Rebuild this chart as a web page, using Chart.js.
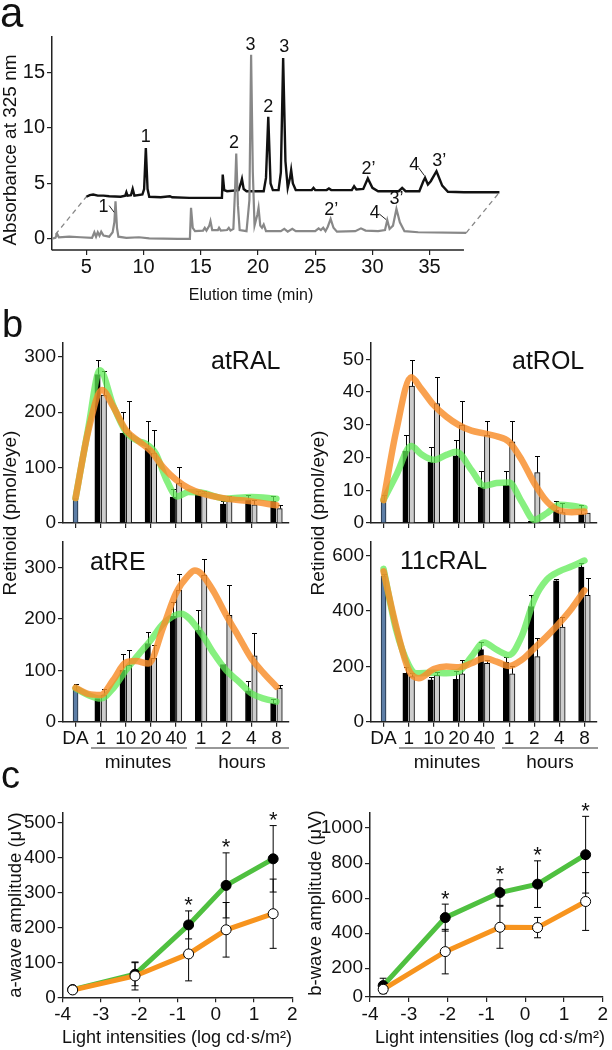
<!DOCTYPE html>
<html>
<head>
<meta charset="utf-8">
<script src="https://cdn.jsdelivr.net/npm/chart.js@4.4.1/dist/chart.umd.min.js"></script>
<style>
  body { margin: 0; background: #fff; width: 612px; height: 1050px; position: relative; overflow: hidden; }
  canvas { position: absolute; }
  svg { position: absolute; left: 0; top: 0; }
</style>
</head>
<body>
<svg id="labels" width="612" height="1050" font-family="Liberation Sans, Arial, Helvetica, sans-serif" fill="#111">
  <text x="0" y="27" font-size="42">a</text>
  <text x="2" y="337" font-size="38">b</text>
  <text x="1" y="788" font-size="38">c</text>

  <text transform="translate(16,150) rotate(-90)" text-anchor="middle" font-size="19">Absorbance at 325 nm</text>
  <text x="251" y="300" text-anchor="middle" font-size="16">Elution time (min)</text>

  <text transform="translate(16,513) rotate(-90)" text-anchor="middle" font-size="19">Retinoid (pmol/eye)</text>
  <text transform="translate(324,513) rotate(-90)" text-anchor="middle" font-size="19">Retinoid (pmol/eye)</text>
  <text x="211" y="369" font-size="25">atRAL</text>
  <text x="512" y="369" font-size="25">atROL</text>
  <text x="90" y="570" font-size="25">atRE</text>
  <text x="400" y="569" font-size="25">11cRAL</text>

  <g stroke="#333" stroke-width="1.2">
    <line x1="91" y1="748" x2="187" y2="748"/>
    <line x1="195" y1="748" x2="289" y2="748"/>
    <line x1="399" y1="748" x2="495" y2="748"/>
    <line x1="502" y1="748" x2="598" y2="748"/>
  </g>
  <text x="138" y="768" text-anchor="middle" font-size="19">minutes</text>
  <text x="242" y="768" text-anchor="middle" font-size="19">hours</text>
  <text x="447" y="768" text-anchor="middle" font-size="19">minutes</text>
  <text x="550" y="768" text-anchor="middle" font-size="19">hours</text>

  <text transform="translate(21,905) rotate(-90)" text-anchor="middle" font-size="18.5">a-wave amplitude (μV)</text>
  <text transform="translate(321,903) rotate(-90)" text-anchor="middle" font-size="18.5">b-wave amplitude (μV)</text>
  <text x="177" y="1043" text-anchor="middle" font-size="18">Light intensities (log cd·s/m²)</text>
  <text x="490" y="1043" text-anchor="middle" font-size="18">Light intensities (log cd·s/m²)</text>
</svg>
<script>
// ---- panel a: HPLC traces, [elution min, absorbance] ----
var traceBlack = [[5.0,3.8],[5.3,3.95],[5.6,4.0],[6.0,3.9],[6.5,3.9],[7.0,3.85],[8.0,3.8],[8.4,3.9],[8.5,4.2],[8.6,3.9],
  [8.9,3.95],[9.05,4.5],[9.2,3.9],[9.9,4.0],[10.05,4.5],[10.2,8.2],[10.35,4.5],[10.5,3.8],[11.5,3.75],[12.3,3.85],
  [12.5,3.75],[14,3.7],[16.85,3.7],[16.92,5.8],[17.05,4.4],[17.3,4.3],[18.3,4.4],[18.5,5.0],[18.6,5.4],[18.75,4.5],
  [19.0,4.3],[20.5,4.3],[20.7,5.5],[20.9,11.0],[21.1,5.0],[21.3,4.4],[21.8,4.4],[22.0,6.0],[22.2,16.3],[22.4,7.0],
  [22.6,4.6],[22.8,5.5],[22.9,6.2],[23.05,5.0],[23.3,4.4],[24.7,4.4],[24.85,4.6],[25.0,4.4],[26.0,4.4],[26.2,4.55],
  [26.4,4.4],[28.2,4.4],[28.4,4.75],[28.6,4.45],[29.2,4.5],[29.6,5.45],[30.0,4.6],[30.5,4.3],[32.3,4.3],[32.6,4.6],
  [32.9,4.3],[34.1,4.3],[34.45,5.2],[34.6,5.5],[34.85,4.9],[35.1,5.2],[35.6,6.1],[36.1,4.8],[36.6,4.25],[38,4.2],[41.1,4.2]];
var traceGrey = [[1.9,0.0],[2.3,0.1],[2.45,0.45],[2.6,0.15],[3.5,0.2],[4.5,0.15],[5.5,0.1],[5.7,0.6],[5.85,0.2],[6.0,0.6],
  [6.15,0.3],[6.3,0.65],[6.5,0.3],[7.0,0.2],[7.3,0.6],[7.45,1.5],[7.55,3.4],[7.68,1.0],[7.8,0.2],[8.5,0.1],[9.6,0.15],
  [10.5,0.05],[13,0.0],[14.05,0.0],[14.15,2.8],[14.3,1.0],[14.5,0.7],[15.2,0.75],[15.35,1.0],[15.5,0.75],[15.75,1.2],
  [15.85,1.6],[16.0,0.8],[16.5,0.8],[16.6,1.0],[16.75,0.75],[17.3,0.8],[17.45,1.0],[17.6,0.75],[17.85,0.9],[18.0,4.5],
  [18.1,7.7],[18.25,3.0],[18.4,0.8],[19.0,0.7],[19.25,3.5],[19.4,16.6],[19.55,6.0],[19.7,1.2],[19.95,2.2],[20.05,2.8],
  [20.2,1.2],[20.35,1.0],[20.5,1.3],[20.7,0.7],[22.0,0.7],[22.3,0.9],[22.6,0.65],[23.0,0.9],[23.3,0.7],[25.0,0.7],
  [25.3,0.95],[25.5,0.8],[25.7,1.0],[25.9,0.7],[26.1,1.1],[26.35,1.8],[26.6,1.0],[26.9,0.65],[28.5,0.7],[29.0,0.95],
  [29.4,0.75],[30.5,0.7],[31.1,0.8],[31.3,1.7],[31.5,0.9],[31.8,1.2],[32.1,2.7],[32.4,1.5],[32.8,0.7],[34,0.6],[38.2,0.55]];
var offsetLinkLeft = [[2.3,0.4],[5.0,3.8]];
var offsetLinkRight = [[38.2,0.55],[41.1,4.2]];
var peakNames = ['1','2','3','2’','4','3’','1','2','3','2’','4','3’'];
var peakNameAt = [[6.5,2.9],[17.9,8.6],[19.35,17.5],[26.4,2.6],[30.2,2.3],[32.1,3.6],
                  [10.2,9.2],[20.9,11.9],[22.3,17.3],[29.65,6.3],[33.65,6.7],[35.85,7.0]];
var peakLeaders = [[[7.0,3.0],[7.43,2.4]],[[30.6,2.25],[31.2,1.74]],[[34.05,6.4],[34.55,5.7]]];
var elutionTicks = [5, 10, 15, 20, 25, 30, 35];
var absorbanceTicks = [0, 5, 10, 15];

// ---- panel b: retinoids (pmol/eye), time points after bleach ----
var timeLabels = ['DA', '1', '10', '20', '40', '1', '2', '4', '8'];
var timeTicks = [0, 1, 2, 3, 4, 5, 6, 7, 8];

var atRAL_da = [44, 0];
var atRAL_black = [268, 162, 135, 47, 52, 34, 42, 39];
var atRAL_blackErr = [27, 39, 49, 14, 6, 5, 9, 10];
var atRAL_grey = [231, 163, 126, 72, 54, 40, 33, 26];
var atRAL_greyErr = [44, 58, 42, 30, 4, 9, 8, 7];
var atRAL_green = [[0,45],[0.5,170],[0.97,276],[1.5,212],[2,165],[2.5,148],[2.8,143],[3.2,125],[3.6,80],[4.05,48],[4.5,56],[5,55],[6,44],[7,47],[8,44]];
var atRAL_orange = [[0,45],[0.5,165],[1.05,240],[1.5,210],[2,168],[2.5,148],[3,130],[3.5,100],[4,78],[4.5,63],[5,54],[6,44],[7,39],[8,32]];

var atROL_da = [6.8, 1.8];
var atROL_black = [22, 18.6, 20.5, 11, 11.5, 0.5, 3.9, 2.7];
var atROL_blackErr = [5, 4.7, 4.9, 5, 4.5, 0, 2.7, 2.7];
var atROL_grey = [41.8, 36.5, 29.9, 26.9, 24.8, 15.4, 3.2, 3.0];
var atROL_greyErr = [8.1, 8.1, 7.3, 4.3, 6.4, 5.1, 2.9, 0];
var atROL_green = [[0,7.1],[0.5,14.5],[1.1,23.5],[1.5,21],[2,19.3],[2.5,20.8],[2.9,21.8],[3.5,16.2],[4,11.4],[4.5,12.2],[5,12.4],[5.5,6.5],[6,1.0],[6.5,3.0],[7,5.6],[7.5,5.3],[8,4.6]];
var atROL_orange = [[0,7],[0.5,28],[1.1,44.5],[1.5,41],[2,36],[2.5,32.5],[3,29.9],[3.5,28.2],[4,27.4],[4.5,26.5],[5,24.8],[5.5,19.3],[6,12.2],[6.5,6.6],[7,3.8],[7.5,3.3],[8,3.5]];

var atRE_da = [62, 11];
var atRE_black = [45, 100, 152, 205, 178, 111, 60, 36];
var atRE_blackErr = [0, 31, 22, 28, 40, 0, 20, 8];
var atRE_grey = [52, 110, 123, 256, 285, 207, 128, 65];
var atRE_greyErr = [11, 30, 26, 32, 32, 58, 45, 6];
var atRE_green = [[0,65],[0.5,52],[1,45],[1.5,65],[2,100],[2.5,130],[3,159],[3.5,191],[4.2,210],[5,172],[5.5,133],[6,100],[6.5,78],[7,55],[7.5,45],[8,39]];
var atRE_orange = [[0,66],[0.5,54],[1,52],[1.5,81],[2,115],[2.4,118],[2.9,113],[3.5,185],[4,250],[4.5,285],[4.75,294],[5,288],[5.5,253],[6,207],[6.5,165],[7,123],[7.5,94],[8,68]];

var cRAL_da = [525, 10];
var cRAL_black = [175, 151, 153, 260, 214, 416, 509, 558];
var cRAL_blackErr = [22, 12, 30, 27, 19, 40, 8, 15];
var cRAL_grey = [163, 167, 173, 211, 173, 235, 342, 456];
var cRAL_greyErr = [14, 14, 50, 12, 29, 67, 36, 63];
var cRAL_green = [[0,552],[0.5,332],[1,205],[1.3,175],[2,177],[2.5,175],[3,181],[3.5,235],[4,286],[4.5,260],[5,241],[5.5,308],[6,441],[6.5,513],[7,543],[7.5,561],[8,582]];
var cRAL_orange = [[0,543],[0.5,344],[1,187],[1.4,157],[2,190],[2.5,199],[3,197],[3.5,211],[4,229],[4.5,217],[5,201],[5.5,223],[6,265],[6.5,308],[7,356],[7.5,410],[8,474]];

// ---- panel c: ERG amplitudes (µV) ----
var aIntensity = [-3.74, -2.11, -0.71, 0.27, 1.5];
var aWaveBlack = [22, 66, 207, 320, 396];
var aWaveBlackErr = [8, 33, 40, 93, 95];
var aWaveWhite = [21, 61, 124, 193, 239];
var aWaveWhiteErr = [8, 40, 77, 78, 99];
var aWaveStars = [false, false, true, true, true];
var bIntensity = [-3.66, -2.06, -0.65, 0.32, 1.56];
var bWaveBlack = [101, 489, 632, 680, 848];
var bWaveBlackErr = [42, 77, 73, 133, 219];
var bWaveWhite = [80, 295, 434, 432, 581];
var bWaveWhiteErr = [25, 127, 120, 58, 165];
var bWaveStars = [false, true, true, true, true];
var intensityTicks = [-4, -3, -2, -1, 0, 1, 2];
var aWaveTicks = [0, 100, 200, 300, 400, 500];
var bWaveTicks = [36, 200, 400, 600, 800, 1000];
var bWaveTickText = ['0', '200', '400', '600', '800', '1000'];

var AXIS = '#222';
var FONT = '"Liberation Sans", Arial, Helvetica, sans-serif';
Chart.defaults.font.family = FONT;
Chart.defaults.color = '#111';
Chart.defaults.animation = false;
Chart.defaults.plugins.legend.display = false;
Chart.defaults.plugins.tooltip.enabled = false;

function place(id, box) {
  var c = document.createElement('canvas');
  c.id = id;
  c.width = box.w; c.height = box.h;
  c.style.left = box.left + 'px'; c.style.top = box.top + 'px';
  c.style.width = box.w + 'px'; c.style.height = box.h + 'px';
  document.body.insertBefore(c, document.getElementById('labels'));
  return c;
}

function frame(box, area) {
  return {
    padding: {left: 0, top: area.t - box.top, right: box.left + box.w - area.r, bottom: 0},
    yw: area.l - box.left,
    xh: box.top + box.h - area.b
  };
}

function fixTicks(vals) {
  return function(s) { s.ticks = vals.map(function(v) { return {value: v}; }); };
}

function pts(arr) {
  return arr.map(function(p) { return {x: p[0], y: p[1]}; });
}

function val(d) { return (d && typeof d === 'object') ? d.y : d; }

// error bars: bars get upward whiskers, points get both directions
var errorBars = {
  id: 'errorBars',
  afterDatasetDraw: function(chart, args) {
    var ds = chart.data.datasets[args.index];
    if (!ds.errors || ds.errBoth) return;
    var ctx = chart.ctx, ys = chart.scales[args.meta.yAxisID];
    ctx.save();
    ctx.strokeStyle = '#000'; ctx.lineWidth = 1;
    args.meta.data.forEach(function(el, i) {
      var v = val(ds.data[i]), e = ds.errors[i];
      if (v == null || !e) return;
      var top = Math.round(ys.getPixelForValue(v + e)) + 0.5;
      var x = Math.round(el.x) + 0.5;
      ctx.beginPath();
      ctx.moveTo(x, el.y); ctx.lineTo(x, top);
      ctx.moveTo(x - 2.5, top); ctx.lineTo(x + 2.5, top);
      ctx.stroke();
    });
    ctx.restore();
  },
  beforeDatasetsDraw: function(chart) {
    var ctx = chart.ctx;
    chart.data.datasets.forEach(function(ds, di) {
      if (!ds.errors || !ds.errBoth) return;
      var meta = chart.getDatasetMeta(di), ys = chart.scales[meta.yAxisID];
      ctx.save();
      ctx.strokeStyle = '#000'; ctx.lineWidth = 1;
      meta.data.forEach(function(el, i) {
        var v = val(ds.data[i]), e = ds.errors[i];
        var hi = ys.getPixelForValue(v + e), lo = ys.getPixelForValue(v - e);
        ctx.beginPath();
        ctx.moveTo(el.x, hi); ctx.lineTo(el.x, lo);
        ctx.moveTo(el.x - 3.5, hi); ctx.lineTo(el.x + 3.5, hi);
        ctx.moveTo(el.x - 3.5, lo); ctx.lineTo(el.x + 3.5, lo);
        ctx.stroke();
      });
      ctx.restore();
    });
  },
  afterDatasetsDraw: function(chart) {
    var ctx = chart.ctx;
    chart.data.datasets.forEach(function(ds, di) {
      if (!ds.stars) return;
      var meta = chart.getDatasetMeta(di), ys = chart.scales[meta.yAxisID];
      ctx.save();
      ctx.fillStyle = '#111'; ctx.font = '22px ' + FONT;
      ctx.textAlign = 'center'; ctx.textBaseline = 'alphabetic';
      meta.data.forEach(function(el, i) {
        if (!ds.stars[i]) return;
        var cap = ys.getPixelForValue(val(ds.data[i]) + ds.errors[i]);
        ctx.fillText('*', el.x, cap + 1.5);
      });
      ctx.restore();
    });
  }
};

function yAxis(min, max, ticks, yw, size, text) {
  return {
    min: min, max: max,
    border: {color: AXIS, width: 1.5},
    grid: {drawOnChartArea: false, tickLength: 5, color: AXIS, lineWidth: 1.2},
    ticks: {font: {size: size}, color: '#111', padding: 2,
      callback: function(v) { return text ? text[ticks.indexOf(v)] : String(v); }},
    afterBuildTicks: fixTicks(ticks),
    afterFit: function(s) { s.width = yw; }
  };
}

// ---------------- panel a ----------------
(function() {
  var box = {left: 0, top: 0, w: 612, h: 280};
  var f = frame(box, {l: 52, t: 37, r: 504, b: 250});
  var hplcMarks = {
    id: 'hplcMarks',
    afterDatasetsDraw: function(chart) {
      var ctx = chart.ctx, xs = chart.scales.x, ys = chart.scales.y;
      ctx.save();
      ctx.strokeStyle = AXIS; ctx.lineWidth = 1.5;
      ctx.beginPath();
      ctx.moveTo(xs.getPixelForValue(2), chart.chartArea.bottom);
      ctx.lineTo(xs.getPixelForValue(38), chart.chartArea.bottom);
      ctx.stroke();
      ctx.fillStyle = '#111'; ctx.font = '18px ' + FONT;
      ctx.textAlign = 'center'; ctx.textBaseline = 'middle';
      peakNames.forEach(function(t, i) {
        ctx.fillText(t, xs.getPixelForValue(peakNameAt[i][0]), ys.getPixelForValue(peakNameAt[i][1]));
      });
      ctx.strokeStyle = '#222'; ctx.lineWidth = 1;
      peakLeaders.forEach(function(l) {
        ctx.beginPath();
        ctx.moveTo(xs.getPixelForValue(l[0][0]), ys.getPixelForValue(l[0][1]));
        ctx.lineTo(xs.getPixelForValue(l[1][0]), ys.getPixelForValue(l[1][1]));
        ctx.stroke();
      });
      ctx.restore();
    }
  };
  new Chart(place('hplc', box), {
    type: 'scatter',
    data: {
      datasets: [
        {data: pts(offsetLinkLeft), showLine: true, borderColor: '#888', borderWidth: 1.3, borderDash: [5, 4], pointRadius: 0, order: 3},
        {data: pts(offsetLinkRight), showLine: true, borderColor: '#888', borderWidth: 1.3, borderDash: [5, 4], pointRadius: 0, order: 3},
        {data: pts(traceBlack), showLine: true, borderColor: '#111', borderWidth: 2.4, pointRadius: 0, order: 2},
        {data: pts(traceGrey), showLine: true, borderColor: '#888', borderWidth: 2.2, pointRadius: 0, order: 1}
      ]
    },
    options: {
      responsive: false, devicePixelRatio: 1,
      layout: {padding: f.padding},
      scales: {
        x: {
          type: 'linear', min: 2, max: 41.5,
          border: {display: false},
          grid: {drawOnChartArea: false, tickLength: 5, color: AXIS, lineWidth: 1.2},
          ticks: {font: {size: 20}, color: '#111', padding: 0},
          afterBuildTicks: fixTicks(elutionTicks),
          afterFit: function(s) { s.height = f.xh; }
        },
        y: yAxis(-1, 18.2, absorbanceTicks, f.yw, 20)
      }
    },
    plugins: [hplcMarks]
  });
})();

// ---------------- panel b ----------------
var GREEN_B = 'rgba(95, 235, 85, 0.75)';
var ORANGE_B = 'rgba(248, 140, 40, 0.82)';
var BAR_SHIFT = 0.125;   // half a bar pair, in time-slot units

function retinoidPanel(id, box, area, yMax, yTicks, showLabels, da, black, blackErr, grey, greyErr, green, orange) {
  var f = frame(box, area);
  function shifted(vals, dx) { return vals.map(function(v, i) { return {x: i + 1 + dx, y: v}; }); }
  var barStyle = {grouped: false, barThickness: 5.4, maxBarThickness: 5.4, borderWidth: 1, order: 3};
  new Chart(place(id, box), {
    type: 'bar',
    data: {
      datasets: [
        Object.assign({data: [{x: 0, y: da[0]}], errors: [da[1]], backgroundColor: '#5d7ea6', borderColor: '#1d2a3a'}, barStyle, {barThickness: 5, maxBarThickness: 5}),
        Object.assign({data: shifted(black, -BAR_SHIFT), errors: blackErr, backgroundColor: '#000', borderColor: '#000'}, barStyle),
        Object.assign({data: shifted(grey, BAR_SHIFT), errors: greyErr, backgroundColor: '#cdcdcd', borderColor: '#000'}, barStyle),
        {type: 'line', data: pts(green), borderColor: GREEN_B, borderWidth: 6.5, pointRadius: 0,
         cubicInterpolationMode: 'monotone', borderCapStyle: 'round', borderJoinStyle: 'round', order: 1},
        {type: 'line', data: pts(orange), borderColor: ORANGE_B, borderWidth: 6.5, pointRadius: 0,
         cubicInterpolationMode: 'monotone', borderCapStyle: 'round', borderJoinStyle: 'round', order: 0}
      ]
    },
    options: {
      responsive: false, devicePixelRatio: 1,
      layout: {padding: f.padding},
      scales: {
        x: {
          type: 'linear', min: -0.5, max: 8.5, offset: false,
          border: {color: AXIS, width: 1.5},
          grid: {offset: false, drawOnChartArea: false, tickLength: 5, color: AXIS, lineWidth: 1.2},
          ticks: {display: showLabels, autoSkip: false, maxRotation: 0, font: {size: 19}, color: '#111', padding: 1,
            callback: function(v) { return timeLabels[v]; }},
          afterBuildTicks: fixTicks(timeTicks),
          afterFit: function(s) { s.height = f.xh; }
        },
        y: yAxis(0, yMax, yTicks, f.yw, 19)
      }
    },
    plugins: [errorBars]
  });
}

retinoidPanel('atRAL', {left: 20, top: 325, w: 280, h: 215}, {l: 63, t: 343, r: 289, b: 523},
  325, [0, 100, 200, 300], false, atRAL_da, atRAL_black, atRAL_blackErr, atRAL_grey, atRAL_greyErr, atRAL_green, atRAL_orange);
retinoidPanel('atROL', {left: 328, top: 325, w: 280, h: 215}, {l: 371, t: 343, r: 597, b: 523},
  55, [0, 10, 20, 30, 40, 50], false, atROL_da, atROL_black, atROL_blackErr, atROL_grey, atROL_greyErr, atROL_green, atROL_orange);
retinoidPanel('atRE', {left: 20, top: 525, w: 280, h: 225}, {l: 63, t: 541.7, r: 289, b: 721.7},
  350, [0, 100, 200, 300], true, atRE_da, atRE_black, atRE_blackErr, atRE_grey, atRE_greyErr, atRE_green, atRE_orange);
retinoidPanel('cRAL', {left: 328, top: 525, w: 280, h: 225}, {l: 371, t: 541.7, r: 597, b: 721.7},
  650, [0, 200, 400, 600], true, cRAL_da, cRAL_black, cRAL_blackErr, cRAL_grey, cRAL_greyErr, cRAL_green, cRAL_orange);

// ---------------- panel c ----------------
var GREEN_C = '#4fc040';
var ORANGE_C = '#f7941e';

function ergPanel(id, box, area, yMin, yMax, yTicks, yText, xs, black, blackErr, white, whiteErr, stars) {
  var f = frame(box, area);
  function series(ys) { return xs.map(function(x, i) { return {x: x, y: ys[i]}; }); }
  new Chart(place(id, box), {
    type: 'scatter',
    data: {
      datasets: [
        {data: series(black), errors: blackErr, errBoth: true, stars: stars, showLine: true,
         borderColor: GREEN_C, borderWidth: 5, pointRadius: 5, pointBackgroundColor: '#000',
         pointBorderColor: '#000', pointBorderWidth: 1, order: 1},
        {data: series(white), errors: whiteErr, errBoth: true, showLine: true,
         borderColor: ORANGE_C, borderWidth: 5, pointRadius: 5, pointBackgroundColor: '#fff',
         pointBorderColor: '#000', pointBorderWidth: 1, order: 0}
      ]
    },
    options: {
      responsive: false, devicePixelRatio: 1,
      layout: {padding: f.padding},
      scales: {
        x: {
          type: 'linear', min: -4, max: 2,
          border: {color: AXIS, width: 1.5},
          grid: {drawOnChartArea: false, tickLength: 5, color: AXIS, lineWidth: 1.2},
          ticks: {font: {size: 19}, color: '#111', padding: 1, callback: function(v) { return String(v); }},
          afterBuildTicks: fixTicks(intensityTicks),
          afterFit: function(s) { s.height = f.xh; }
        },
        y: yAxis(yMin, yMax, yTicks, f.yw, 19, yText)
      }
    },
    plugins: [errorBars]
  });
}

ergPanel('awave', {left: 20, top: 795, w: 285, h: 245}, {l: 62.7, t: 813, r: 292.3, b: 997.3},
  0, 527, aWaveTicks, null, aIntensity, aWaveBlack, aWaveBlackErr, aWaveWhite, aWaveWhiteErr, aWaveStars);
ergPanel('bwave', {left: 318, top: 795, w: 294, h: 245}, {l: 370, t: 813, r: 602.7, b: 997},
  36, 1086, bWaveTicks, bWaveTickText, bIntensity, bWaveBlack, bWaveBlackErr, bWaveWhite, bWaveWhiteErr, bWaveStars);
</script>
</body>
</html>
